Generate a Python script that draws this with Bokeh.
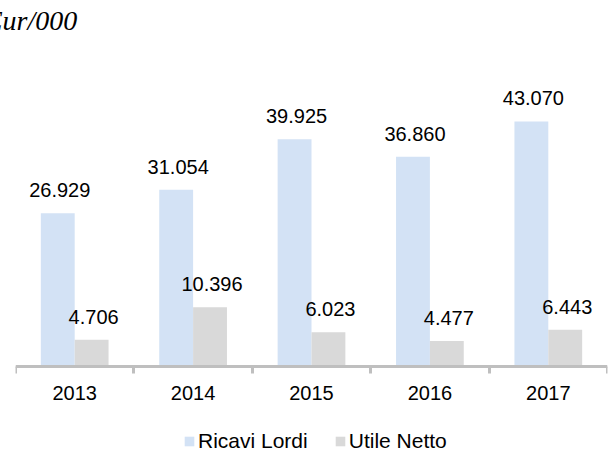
from bokeh.plotting import figure
from bokeh.models import (FactorRange, Range1d, LinearAxis, FixedTicker, LabelSet,
                          ColumnDataSource, Legend, LegendItem, Title)
from bokeh.core.properties import value
from bokeh.transform import dodge
from bokeh.embed import file_html
from bokeh.resources import INLINE

years = ["2013", "2014", "2015", "2016", "2017"]
ricavi_lordi = [26929, 31054, 39925, 36860, 43070]
utile_netto = [4706, 10396, 6023, 4477, 6443]
series_names = ["Ricavi Lordi", "Utile Netto"]
unit_label = "Eur/000"


def it_fmt(v):
    return f"{v:,}".replace(",", ".")


src = ColumnDataSource(dict(
    year=years,
    ricavi=ricavi_lordi,
    utile=utile_netto,
    ricavi_lbl=[it_fmt(v) for v in ricavi_lordi],
    utile_lbl=[it_fmt(v) for v in utile_netto],
))

# vertical layout: frame from y=36 to bottom of canvas, zero line at y=366 px
PX_PER_UNIT = 0.00569
FRAME_TOP = 36
ZERO_PX = 366
H = 451
y_lo = -(H - ZERO_PX) / PX_PER_UNIT
y_hi = (ZERO_PX - FRAME_TOP) / PX_PER_UNIT

p = figure(width=615, height=H, x_range=FactorRange(factors=years),
           y_range=Range1d(y_lo, y_hi), x_axis_type=None, y_axis_type=None,
           output_backend="svg", toolbar_location=None,
           min_border_left=15, min_border_right=8, min_border_top=FRAME_TOP,
           min_border_bottom=0)
p.outline_line_color = None
p.grid.visible = False
p.background_fill_color = "white"

BW = 0.286
OFF = 0.143
FONT = "Liberation Sans"

r1 = p.vbar(x=dodge("year", -OFF, range=p.x_range), top="ricavi", width=BW,
            source=src, fill_color="#D3E2F5", line_color=None)
r2 = p.vbar(x=dodge("year", OFF, range=p.x_range), top="utile", width=BW,
            source=src, fill_color="#D9D9D9", line_color=None)

for col, off in (("ricavi", -OFF), ("utile", OFF)):
    ls = LabelSet(x=dodge("year", off, range=p.x_range), y=col, text=col + "_lbl",
                  source=src, text_align="center", text_baseline="alphabetic",
                  y_offset=16, x_offset=2, text_font=value(FONT),
                  text_font_size="20px", text_color="#000000")
    p.add_layout(ls)

centers = [i + 0.5 for i in range(len(years))]
bounds = [float(i) for i in range(len(years) + 1)]
xaxis = LinearAxis(ticker=FixedTicker(ticks=centers, minor_ticks=bounds),
                   major_label_overrides={c: y for c, y in zip(centers, years)},
                   fixed_location=0)
xaxis.axis_line_color = "#BFBFBF"
xaxis.axis_line_width = 3
xaxis.major_tick_line_color = None
xaxis.major_tick_out = 0
xaxis.major_tick_in = 0
xaxis.minor_tick_line_color = "#BFBFBF"
xaxis.minor_tick_line_width = 3
xaxis.minor_tick_out = 7
xaxis.minor_tick_in = 0
xaxis.major_label_standoff = 12
xaxis.major_label_text_font = FONT
xaxis.major_label_text_font_size = "20px"
xaxis.major_label_text_color = "#000000"
p.add_layout(xaxis, "below")

legend = Legend(items=[LegendItem(label=series_names[0], renderers=[r1]),
                       LegendItem(label=series_names[1], renderers=[r2])],
                orientation="horizontal", location=(168, -2),
                glyph_width=12, glyph_height=12, label_standoff=3, spacing=26,
                padding=0, margin=0, border_line_color=None,
                background_fill_alpha=0, label_text_font=FONT,
                label_text_font_size="21px", label_text_color="#000000")
p.add_layout(legend, "center")

title = Title(text=unit_label, align="left", offset=-30, standoff=2,
              text_font="Liberation Serif", text_font_style="italic",
              text_font_size="28px", text_color="#000000")
p.add_layout(title, "above")

open("out.html", "w").write(file_html(p, INLINE))
